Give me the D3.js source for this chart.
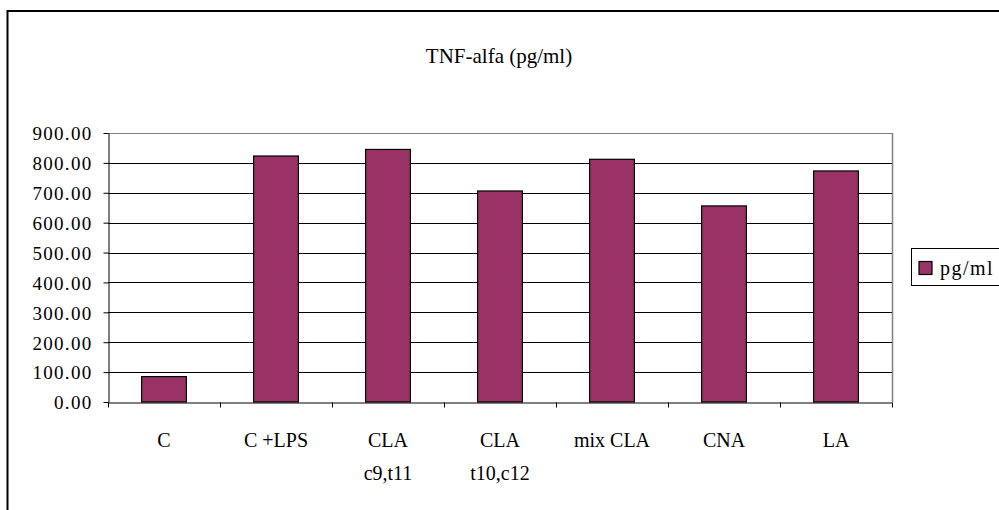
<!DOCTYPE html>
<html>
<head>
<meta charset="utf-8">
<script src="https://cdn.jsdelivr.net/npm/d3@7"></script>
<style>
  html, body { margin: 0; padding: 0; background: #fff; }
  svg { display: block; }
  text { font-family: "Liberation Serif", "DejaVu Serif", serif; fill: #000; }
</style>
</head>
<body>
<svg id="chart" width="999" height="510"></svg>
<script>
const categories = [["C"], ["C +LPS"], ["CLA", "c9,t11"], ["CLA", "t10,c12"], ["mix CLA"], ["CNA"], ["LA"]];
const values = [85, 823, 845, 706, 812, 656, 773];
const yTicks = [0, 100, 200, 300, 400, 500, 600, 700, 800, 900];
const seriesName = "pg/ml";
const title = "TNF-alfa (pg/ml)";

const svg = d3.select("#chart");
const barColor = "#993366";

// outer chart border
svg.append("path")
  .attr("d", "M7.5,520 V11 H1010")
  .attr("fill", "none").attr("stroke", "#000").attr("stroke-width", 2);

const plot = { left: 108, right: 892, top: 133, bottom: 402 };

const x = d3.scaleBand().domain(d3.range(categories.length)).range([plot.left, plot.right]).paddingInner(0).paddingOuter(0);
const y = d3.scaleLinear().domain([0, 900]).range([plot.bottom, plot.top]);

// gridlines
svg.append("g").selectAll("line").data(yTicks.filter(t => t > 0)).join("line")
  .attr("x1", plot.left).attr("x2", plot.right)
  .attr("y1", d => Math.round(y(d)) + 0.5).attr("y2", d => Math.round(y(d)) + 0.5)
  .attr("stroke", d => d === 900 ? "#808080" : "#000").attr("stroke-width", 1);

// plot area right border
svg.append("line")
  .attr("x1", plot.right + 0.5).attr("x2", plot.right + 0.5)
  .attr("y1", plot.top).attr("y2", plot.bottom)
  .attr("stroke", "#808080").attr("stroke-width", 1.5);

// bars
const bw = x.bandwidth() * 0.4;
svg.append("g").selectAll("rect").data(values).join("rect")
  .attr("x", (d, i) => x(i) + (x.bandwidth() - bw) / 2)
  .attr("width", bw)
  .attr("y", d => y(d))
  .attr("height", d => y(0) - y(d))
  .attr("fill", barColor).attr("stroke", "#000").attr("stroke-width", 1.2);

// y axis
const yAxis = d3.axisLeft(y).tickValues(yTicks).tickSize(5).tickSizeOuter(0).tickFormat(d3.format(".2f"));
const gy = svg.append("g").attr("transform", `translate(${plot.left + 0.5},0)`).call(yAxis);
gy.select(".domain").attr("stroke", "#000");
gy.selectAll(".tick line").attr("stroke", "#000");
gy.selectAll(".tick text").attr("font-size", 19).attr("font-family", "Liberation Serif")
  .attr("letter-spacing", 1.3).attr("x", -16).attr("dy", "0.36em");

// x axis
const xLin = d3.scaleLinear().domain([0, categories.length]).range([plot.left, plot.right]);
const xAxis = d3.axisBottom(xLin).tickValues(d3.range(categories.length + 1)).tickSize(5).tickSizeOuter(0).tickFormat("");
const gx = svg.append("g").attr("transform", `translate(0,${plot.bottom + 0.5})`).call(xAxis);
gx.select(".domain").attr("stroke", "#000");
gx.selectAll(".tick line").attr("stroke", "#000");

// category labels
const lab = svg.append("g").selectAll("text").data(categories).join("text")
  .attr("text-anchor", "middle").attr("font-size", 20)
  .attr("transform", (d, i) => `translate(${x(i) + x.bandwidth() / 2},447)`);
lab.selectAll("tspan").data(d => d).join("tspan")
  .attr("x", 0).attr("y", (d, j) => j * 33).text(d => d);

// title
svg.append("text").attr("x", 499).attr("y", 63).attr("text-anchor", "middle")
  .attr("font-size", 21).text(title);

// legend
const lg = svg.append("g");
lg.append("rect").attr("x", 911.5).attr("y", 248.5).attr("width", 120).attr("height", 37)
  .attr("fill", "#fff").attr("stroke", "#000").attr("stroke-width", 1);
lg.append("rect").attr("x", 919).attr("y", 261.5).attr("width", 13).attr("height", 13)
  .attr("fill", barColor).attr("stroke", "#000").attr("stroke-width", 1.2);
lg.append("text").attr("x", 940).attr("y", 275).attr("font-size", 20)
  .attr("letter-spacing", 1.5).text(seriesName);
</script>
</body>
</html>
